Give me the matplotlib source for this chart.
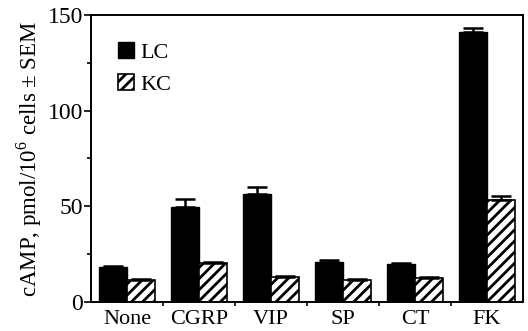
import matplotlib.pyplot as plt
import numpy as np

plt.rcParams['font.family'] = ['Liberation Serif', 'DejaVu Serif']
plt.rcParams['mathtext.fontset'] = 'custom'
plt.rcParams['mathtext.rm'] = 'Liberation Serif'
plt.rcParams['hatch.linewidth'] = 2.0

# cAMP levels per treatment, with SEM
treatments = ['None', 'CGRP', 'VIP', 'SP', 'CT', 'FK']
lc_mean = [18.4, 49.8, 56.3, 20.8, 20.1, 141.2]
lc_sem = [0.4, 4.1, 4.0, 1.1, 0.4, 1.9]
kc_mean = [11.7, 20.5, 13.1, 11.7, 12.6, 53.4]
kc_sem = [0.3, 0.6, 0.3, 0.3, 0.3, 2.0]

x = np.arange(len(treatments))
w = 0.39

fig = plt.figure(figsize=(5.28, 3.31), dpi=100)
ax = fig.add_axes([91 / 528, 29 / 331, 432 / 528, 287 / 331])

err_lc = [np.zeros(len(lc_sem)), lc_sem]
err_kc = [np.zeros(len(kc_sem)), kc_sem]
ax.bar(x - w / 2, lc_mean, w, color='black', edgecolor='black', linewidth=1,
       label='LC', yerr=err_lc, capsize=7,
       error_kw=dict(ecolor='black', elinewidth=1.8, capthick=1.8))
ax.bar(x + w / 2, kc_mean, w, color='white', edgecolor='black', linewidth=1.2,
       hatch='///', label='KC', yerr=err_kc, capsize=7,
       error_kw=dict(ecolor='black', elinewidth=1.8, capthick=1.8))

ax.set_xlim(-0.5, len(treatments) - 0.5)
ax.set_ylim(0, 150)
ax.set_xticks(x)
ax.set_xticklabels(treatments, fontsize=16)
ax.set_xticks(x[:-1] + 0.5, minor=True)
ax.tick_params(axis='x', which='major', length=0, pad=6)
ax.tick_params(axis='x', which='minor', length=3, width=1.2, direction='out')
ax.set_yticks([0, 50, 100, 150])
ax.set_yticks([25, 75, 125], minor=True)
ax.tick_params(axis='y', which='major', length=5, width=1.2, direction='out',
               labelsize=17, pad=0.5)
ax.tick_params(axis='y', which='minor', length=3, width=1.2, direction='out')
for s in ax.spines.values():
    s.set_linewidth(1.4)

ax.set_ylabel('cAMP, pmol/10$^6$ cells $\\pm$ SEM', fontsize=16.5, labelpad=3)
ax.legend(loc='upper left', frameon=False, fontsize=16, handlelength=0.75,
          handleheight=0.75, handletextpad=0.25, borderaxespad=0.7,
          labelspacing=0.5, borderpad=0.5)

fig.savefig('out.png', dpi=100)
